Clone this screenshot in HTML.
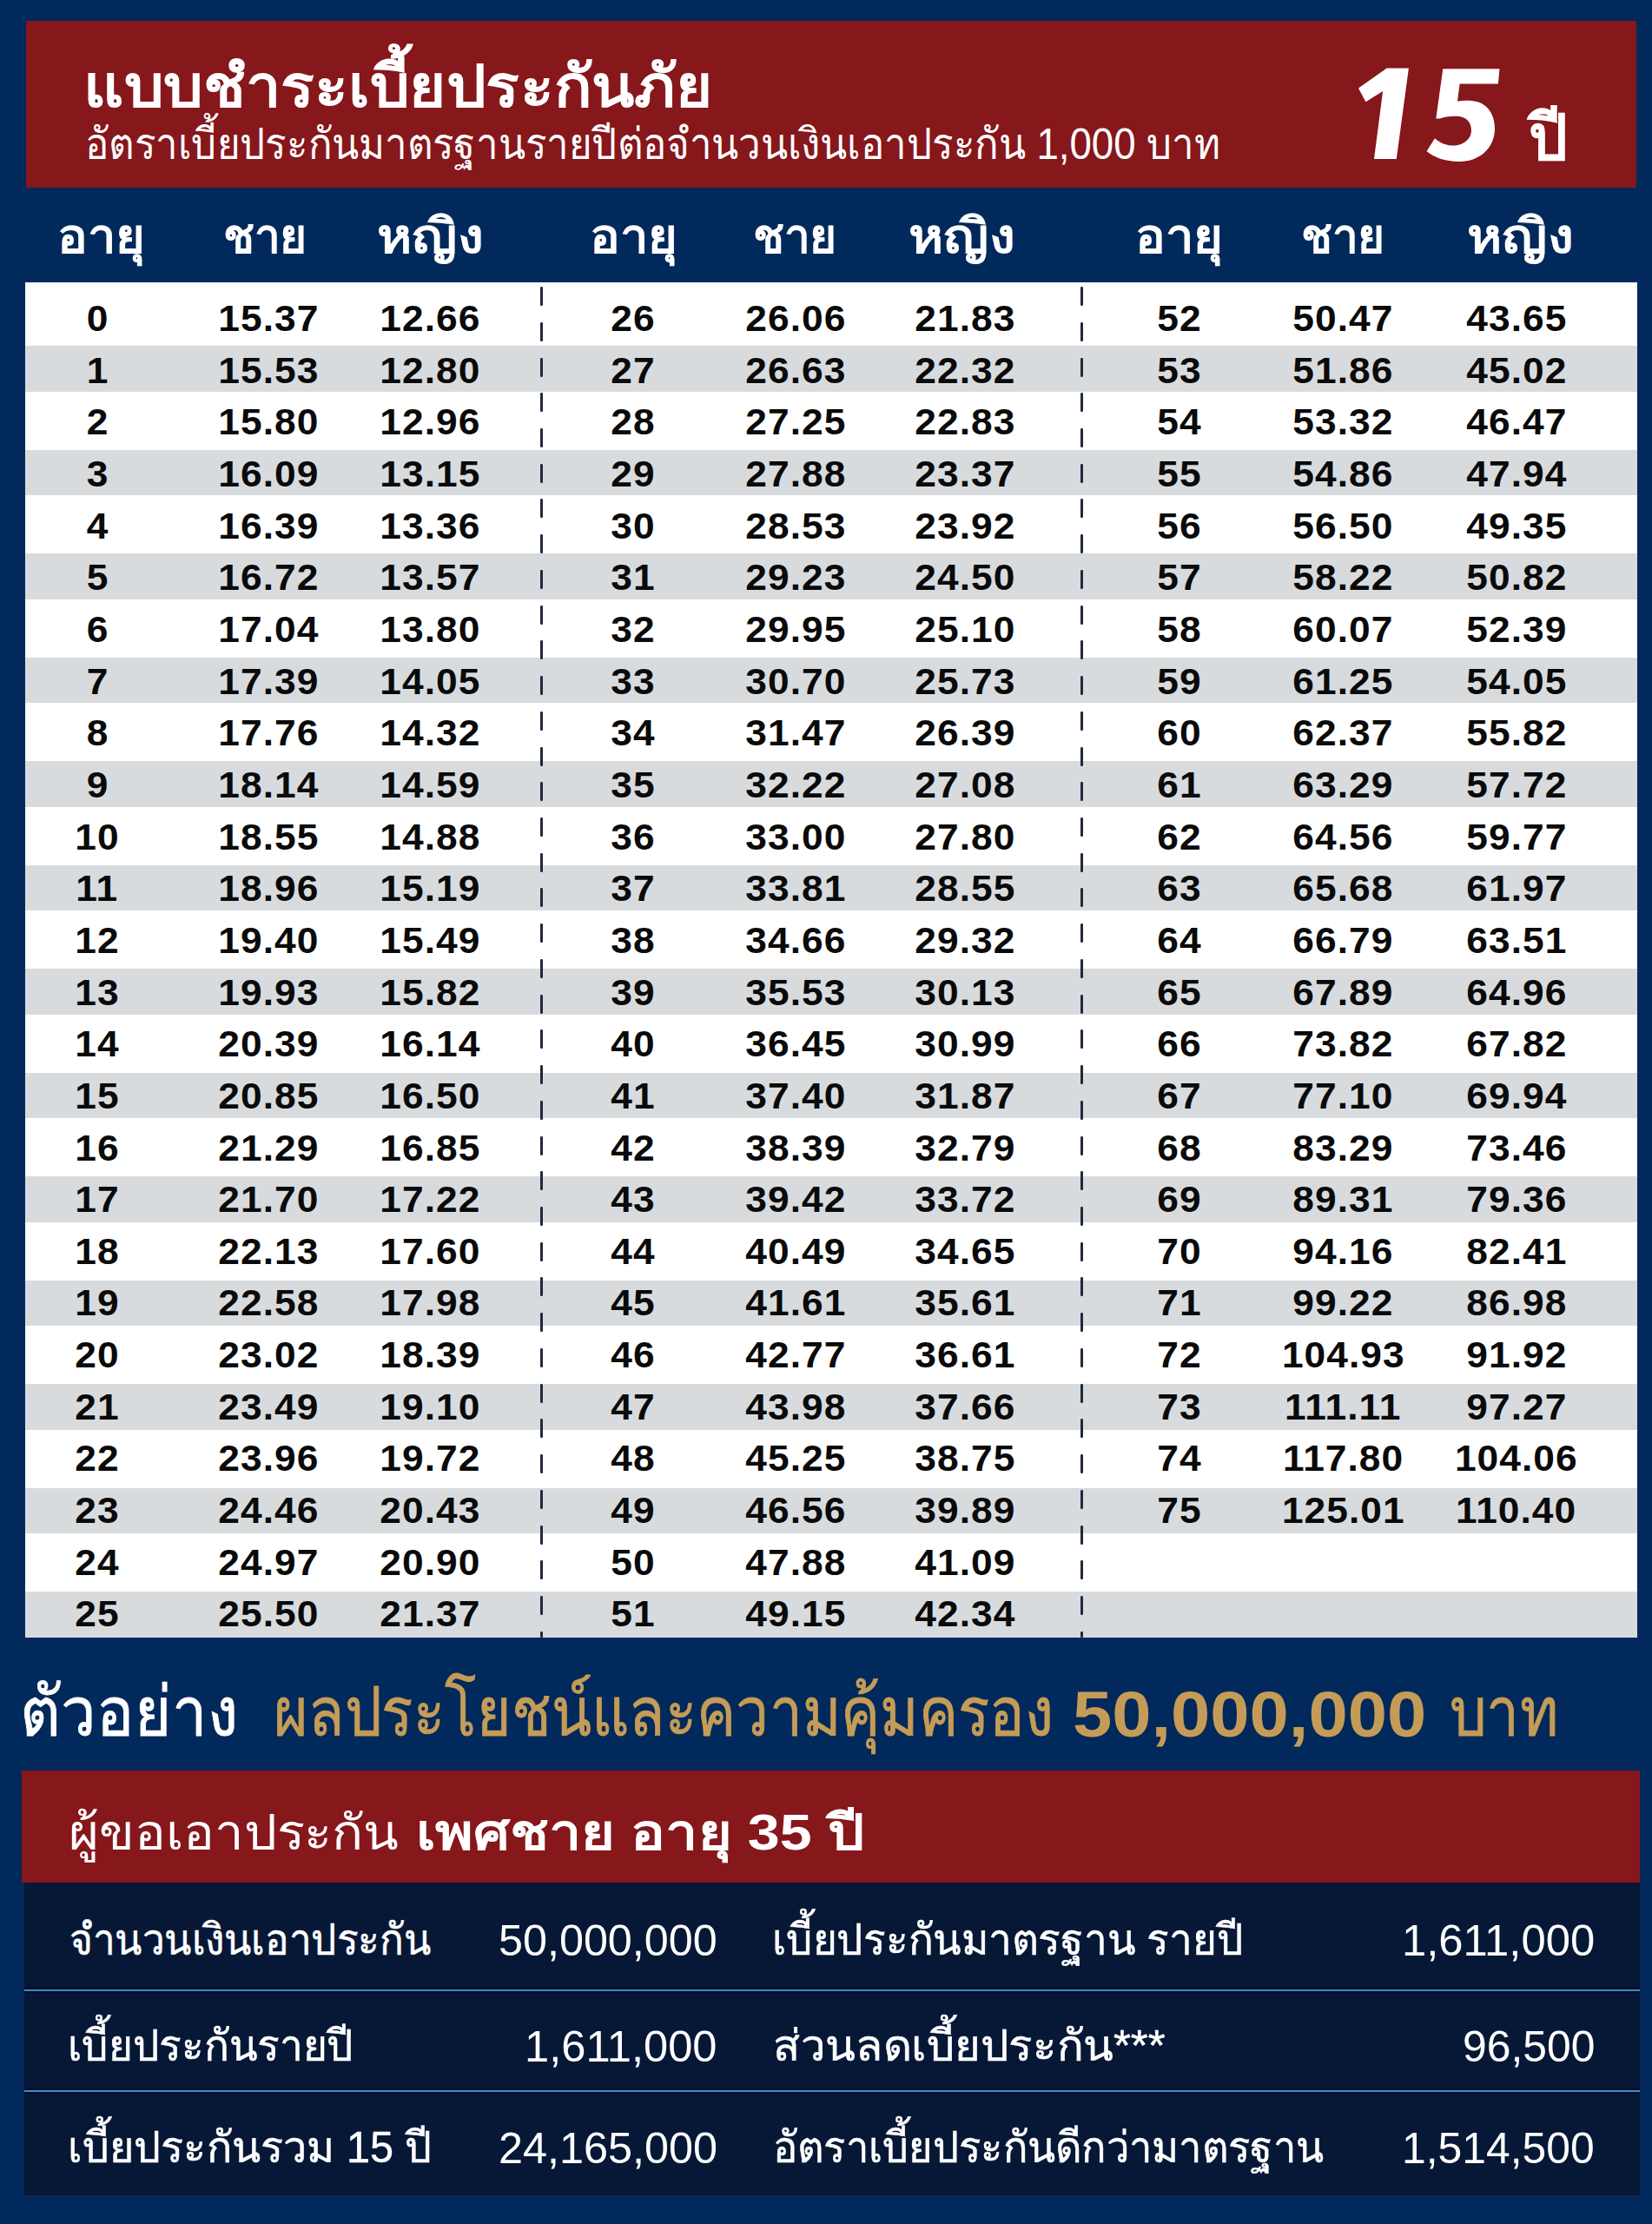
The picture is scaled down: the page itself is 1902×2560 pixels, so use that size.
<!DOCTYPE html>
<html lang="th"><head><meta charset="utf-8"><title>แบบชำระเบี้ยประกันภัย 15 ปี</title>
<style>
*{margin:0;padding:0;box-sizing:border-box}
html,body{width:1902px;height:2560px;overflow:hidden}
body{position:relative;background:#02295b;font-family:"Liberation Sans",sans-serif;color:#fff}
.a{position:absolute;white-space:nowrap;transform-origin:0 0}
.c{position:absolute;white-space:nowrap;text-align:center;width:240px}
.n{font-weight:bold;color:#0a0a0a;font-size:43px;line-height:43px}
.n span{display:inline-block;transform:scaleX(1.03);letter-spacing:1px}
.g{position:absolute;left:29px;width:1856px;height:52.4px;background:#d8dbde}
.d{position:absolute;width:2.6px;border-radius:1.3px;background:#20283f}
.box{position:absolute}
</style></head><body>

<div class="box" style="left:30px;top:24px;width:1854px;height:192px;background:#86171b"></div>
<div class="box" style="left:29px;top:325px;width:1856px;height:1560px;background:#fff"></div>
<div class="g" style="top:398.40px"></div>
<div class="g" style="top:517.88px"></div>
<div class="g" style="top:637.36px"></div>
<div class="g" style="top:756.84px"></div>
<div class="g" style="top:876.32px"></div>
<div class="g" style="top:995.80px"></div>
<div class="g" style="top:1115.28px"></div>
<div class="g" style="top:1234.76px"></div>
<div class="g" style="top:1354.24px"></div>
<div class="g" style="top:1473.72px"></div>
<div class="g" style="top:1593.20px"></div>
<div class="g" style="top:1712.68px"></div>
<div class="g" style="top:1832.16px"></div>
<div class="d" style="left:622.0px;top:330.0px;height:22.0px"></div>
<div class="d" style="left:622.0px;top:370.7px;height:22.0px"></div>
<div class="d" style="left:622.0px;top:411.5px;height:22.0px"></div>
<div class="d" style="left:622.0px;top:452.2px;height:22.0px"></div>
<div class="d" style="left:622.0px;top:492.9px;height:22.0px"></div>
<div class="d" style="left:622.0px;top:533.7px;height:22.0px"></div>
<div class="d" style="left:622.0px;top:574.4px;height:22.0px"></div>
<div class="d" style="left:622.0px;top:615.1px;height:22.0px"></div>
<div class="d" style="left:622.0px;top:655.8px;height:22.0px"></div>
<div class="d" style="left:622.0px;top:696.6px;height:22.0px"></div>
<div class="d" style="left:622.0px;top:737.3px;height:22.0px"></div>
<div class="d" style="left:622.0px;top:778.0px;height:22.0px"></div>
<div class="d" style="left:622.0px;top:818.8px;height:22.0px"></div>
<div class="d" style="left:622.0px;top:859.5px;height:22.0px"></div>
<div class="d" style="left:622.0px;top:900.2px;height:22.0px"></div>
<div class="d" style="left:622.0px;top:941.0px;height:22.0px"></div>
<div class="d" style="left:622.0px;top:981.7px;height:22.0px"></div>
<div class="d" style="left:622.0px;top:1022.4px;height:22.0px"></div>
<div class="d" style="left:622.0px;top:1063.1px;height:22.0px"></div>
<div class="d" style="left:622.0px;top:1103.9px;height:22.0px"></div>
<div class="d" style="left:622.0px;top:1144.6px;height:22.0px"></div>
<div class="d" style="left:622.0px;top:1185.3px;height:22.0px"></div>
<div class="d" style="left:622.0px;top:1226.1px;height:22.0px"></div>
<div class="d" style="left:622.0px;top:1266.8px;height:22.0px"></div>
<div class="d" style="left:622.0px;top:1307.5px;height:22.0px"></div>
<div class="d" style="left:622.0px;top:1348.3px;height:22.0px"></div>
<div class="d" style="left:622.0px;top:1389.0px;height:22.0px"></div>
<div class="d" style="left:622.0px;top:1429.7px;height:22.0px"></div>
<div class="d" style="left:622.0px;top:1470.4px;height:22.0px"></div>
<div class="d" style="left:622.0px;top:1511.2px;height:22.0px"></div>
<div class="d" style="left:622.0px;top:1551.9px;height:22.0px"></div>
<div class="d" style="left:622.0px;top:1592.6px;height:22.0px"></div>
<div class="d" style="left:622.0px;top:1633.4px;height:22.0px"></div>
<div class="d" style="left:622.0px;top:1674.1px;height:22.0px"></div>
<div class="d" style="left:622.0px;top:1714.8px;height:22.0px"></div>
<div class="d" style="left:622.0px;top:1755.6px;height:22.0px"></div>
<div class="d" style="left:622.0px;top:1796.3px;height:22.0px"></div>
<div class="d" style="left:622.0px;top:1837.0px;height:22.0px"></div>
<div class="d" style="left:622.0px;top:1877.7px;height:7.3px"></div>
<div class="d" style="left:1244.0px;top:330.0px;height:22.0px"></div>
<div class="d" style="left:1244.0px;top:370.7px;height:22.0px"></div>
<div class="d" style="left:1244.0px;top:411.5px;height:22.0px"></div>
<div class="d" style="left:1244.0px;top:452.2px;height:22.0px"></div>
<div class="d" style="left:1244.0px;top:492.9px;height:22.0px"></div>
<div class="d" style="left:1244.0px;top:533.7px;height:22.0px"></div>
<div class="d" style="left:1244.0px;top:574.4px;height:22.0px"></div>
<div class="d" style="left:1244.0px;top:615.1px;height:22.0px"></div>
<div class="d" style="left:1244.0px;top:655.8px;height:22.0px"></div>
<div class="d" style="left:1244.0px;top:696.6px;height:22.0px"></div>
<div class="d" style="left:1244.0px;top:737.3px;height:22.0px"></div>
<div class="d" style="left:1244.0px;top:778.0px;height:22.0px"></div>
<div class="d" style="left:1244.0px;top:818.8px;height:22.0px"></div>
<div class="d" style="left:1244.0px;top:859.5px;height:22.0px"></div>
<div class="d" style="left:1244.0px;top:900.2px;height:22.0px"></div>
<div class="d" style="left:1244.0px;top:941.0px;height:22.0px"></div>
<div class="d" style="left:1244.0px;top:981.7px;height:22.0px"></div>
<div class="d" style="left:1244.0px;top:1022.4px;height:22.0px"></div>
<div class="d" style="left:1244.0px;top:1063.1px;height:22.0px"></div>
<div class="d" style="left:1244.0px;top:1103.9px;height:22.0px"></div>
<div class="d" style="left:1244.0px;top:1144.6px;height:22.0px"></div>
<div class="d" style="left:1244.0px;top:1185.3px;height:22.0px"></div>
<div class="d" style="left:1244.0px;top:1226.1px;height:22.0px"></div>
<div class="d" style="left:1244.0px;top:1266.8px;height:22.0px"></div>
<div class="d" style="left:1244.0px;top:1307.5px;height:22.0px"></div>
<div class="d" style="left:1244.0px;top:1348.3px;height:22.0px"></div>
<div class="d" style="left:1244.0px;top:1389.0px;height:22.0px"></div>
<div class="d" style="left:1244.0px;top:1429.7px;height:22.0px"></div>
<div class="d" style="left:1244.0px;top:1470.4px;height:22.0px"></div>
<div class="d" style="left:1244.0px;top:1511.2px;height:22.0px"></div>
<div class="d" style="left:1244.0px;top:1551.9px;height:22.0px"></div>
<div class="d" style="left:1244.0px;top:1592.6px;height:22.0px"></div>
<div class="d" style="left:1244.0px;top:1633.4px;height:22.0px"></div>
<div class="d" style="left:1244.0px;top:1674.1px;height:22.0px"></div>
<div class="d" style="left:1244.0px;top:1714.8px;height:22.0px"></div>
<div class="d" style="left:1244.0px;top:1755.6px;height:22.0px"></div>
<div class="d" style="left:1244.0px;top:1796.3px;height:22.0px"></div>
<div class="d" style="left:1244.0px;top:1837.0px;height:22.0px"></div>
<div class="d" style="left:1244.0px;top:1877.7px;height:7.3px"></div>
<div class="c n" style="left:-8.0px;top:345.1px"><span>0</span></div>
<div class="c n" style="left:189.0px;top:345.1px"><span>15.37</span></div>
<div class="c n" style="left:375.0px;top:345.1px"><span>12.66</span></div>
<div class="c n" style="left:-8.0px;top:404.8px"><span>1</span></div>
<div class="c n" style="left:189.0px;top:404.8px"><span>15.53</span></div>
<div class="c n" style="left:375.0px;top:404.8px"><span>12.80</span></div>
<div class="c n" style="left:-8.0px;top:464.4px"><span>2</span></div>
<div class="c n" style="left:189.0px;top:464.4px"><span>15.80</span></div>
<div class="c n" style="left:375.0px;top:464.4px"><span>12.96</span></div>
<div class="c n" style="left:-8.0px;top:524.0px"><span>3</span></div>
<div class="c n" style="left:189.0px;top:524.0px"><span>16.09</span></div>
<div class="c n" style="left:375.0px;top:524.0px"><span>13.15</span></div>
<div class="c n" style="left:-8.0px;top:583.7px"><span>4</span></div>
<div class="c n" style="left:189.0px;top:583.7px"><span>16.39</span></div>
<div class="c n" style="left:375.0px;top:583.7px"><span>13.36</span></div>
<div class="c n" style="left:-8.0px;top:643.4px"><span>5</span></div>
<div class="c n" style="left:189.0px;top:643.4px"><span>16.72</span></div>
<div class="c n" style="left:375.0px;top:643.4px"><span>13.57</span></div>
<div class="c n" style="left:-8.0px;top:703.0px"><span>6</span></div>
<div class="c n" style="left:189.0px;top:703.0px"><span>17.04</span></div>
<div class="c n" style="left:375.0px;top:703.0px"><span>13.80</span></div>
<div class="c n" style="left:-8.0px;top:762.7px"><span>7</span></div>
<div class="c n" style="left:189.0px;top:762.7px"><span>17.39</span></div>
<div class="c n" style="left:375.0px;top:762.7px"><span>14.05</span></div>
<div class="c n" style="left:-8.0px;top:822.3px"><span>8</span></div>
<div class="c n" style="left:189.0px;top:822.3px"><span>17.76</span></div>
<div class="c n" style="left:375.0px;top:822.3px"><span>14.32</span></div>
<div class="c n" style="left:-8.0px;top:882.0px"><span>9</span></div>
<div class="c n" style="left:189.0px;top:882.0px"><span>18.14</span></div>
<div class="c n" style="left:375.0px;top:882.0px"><span>14.59</span></div>
<div class="c n" style="left:-8.0px;top:941.6px"><span>10</span></div>
<div class="c n" style="left:189.0px;top:941.6px"><span>18.55</span></div>
<div class="c n" style="left:375.0px;top:941.6px"><span>14.88</span></div>
<div class="c n" style="left:-8.0px;top:1001.2px"><span>11</span></div>
<div class="c n" style="left:189.0px;top:1001.2px"><span>18.96</span></div>
<div class="c n" style="left:375.0px;top:1001.2px"><span>15.19</span></div>
<div class="c n" style="left:-8.0px;top:1060.9px"><span>12</span></div>
<div class="c n" style="left:189.0px;top:1060.9px"><span>19.40</span></div>
<div class="c n" style="left:375.0px;top:1060.9px"><span>15.49</span></div>
<div class="c n" style="left:-8.0px;top:1120.5px"><span>13</span></div>
<div class="c n" style="left:189.0px;top:1120.5px"><span>19.93</span></div>
<div class="c n" style="left:375.0px;top:1120.5px"><span>15.82</span></div>
<div class="c n" style="left:-8.0px;top:1180.2px"><span>14</span></div>
<div class="c n" style="left:189.0px;top:1180.2px"><span>20.39</span></div>
<div class="c n" style="left:375.0px;top:1180.2px"><span>16.14</span></div>
<div class="c n" style="left:-8.0px;top:1239.8px"><span>15</span></div>
<div class="c n" style="left:189.0px;top:1239.8px"><span>20.85</span></div>
<div class="c n" style="left:375.0px;top:1239.8px"><span>16.50</span></div>
<div class="c n" style="left:-8.0px;top:1299.5px"><span>16</span></div>
<div class="c n" style="left:189.0px;top:1299.5px"><span>21.29</span></div>
<div class="c n" style="left:375.0px;top:1299.5px"><span>16.85</span></div>
<div class="c n" style="left:-8.0px;top:1359.2px"><span>17</span></div>
<div class="c n" style="left:189.0px;top:1359.2px"><span>21.70</span></div>
<div class="c n" style="left:375.0px;top:1359.2px"><span>17.22</span></div>
<div class="c n" style="left:-8.0px;top:1418.8px"><span>18</span></div>
<div class="c n" style="left:189.0px;top:1418.8px"><span>22.13</span></div>
<div class="c n" style="left:375.0px;top:1418.8px"><span>17.60</span></div>
<div class="c n" style="left:-8.0px;top:1478.4px"><span>19</span></div>
<div class="c n" style="left:189.0px;top:1478.4px"><span>22.58</span></div>
<div class="c n" style="left:375.0px;top:1478.4px"><span>17.98</span></div>
<div class="c n" style="left:-8.0px;top:1538.1px"><span>20</span></div>
<div class="c n" style="left:189.0px;top:1538.1px"><span>23.02</span></div>
<div class="c n" style="left:375.0px;top:1538.1px"><span>18.39</span></div>
<div class="c n" style="left:-8.0px;top:1597.8px"><span>21</span></div>
<div class="c n" style="left:189.0px;top:1597.8px"><span>23.49</span></div>
<div class="c n" style="left:375.0px;top:1597.8px"><span>19.10</span></div>
<div class="c n" style="left:-8.0px;top:1657.4px"><span>22</span></div>
<div class="c n" style="left:189.0px;top:1657.4px"><span>23.96</span></div>
<div class="c n" style="left:375.0px;top:1657.4px"><span>19.72</span></div>
<div class="c n" style="left:-8.0px;top:1717.1px"><span>23</span></div>
<div class="c n" style="left:189.0px;top:1717.1px"><span>24.46</span></div>
<div class="c n" style="left:375.0px;top:1717.1px"><span>20.43</span></div>
<div class="c n" style="left:-8.0px;top:1776.7px"><span>24</span></div>
<div class="c n" style="left:189.0px;top:1776.7px"><span>24.97</span></div>
<div class="c n" style="left:375.0px;top:1776.7px"><span>20.90</span></div>
<div class="c n" style="left:-8.0px;top:1836.3px"><span>25</span></div>
<div class="c n" style="left:189.0px;top:1836.3px"><span>25.50</span></div>
<div class="c n" style="left:375.0px;top:1836.3px"><span>21.37</span></div>
<div class="c n" style="left:609.0px;top:345.1px"><span>26</span></div>
<div class="c n" style="left:796.5px;top:345.1px"><span>26.06</span></div>
<div class="c n" style="left:991.0px;top:345.1px"><span>21.83</span></div>
<div class="c n" style="left:609.0px;top:404.8px"><span>27</span></div>
<div class="c n" style="left:796.5px;top:404.8px"><span>26.63</span></div>
<div class="c n" style="left:991.0px;top:404.8px"><span>22.32</span></div>
<div class="c n" style="left:609.0px;top:464.4px"><span>28</span></div>
<div class="c n" style="left:796.5px;top:464.4px"><span>27.25</span></div>
<div class="c n" style="left:991.0px;top:464.4px"><span>22.83</span></div>
<div class="c n" style="left:609.0px;top:524.0px"><span>29</span></div>
<div class="c n" style="left:796.5px;top:524.0px"><span>27.88</span></div>
<div class="c n" style="left:991.0px;top:524.0px"><span>23.37</span></div>
<div class="c n" style="left:609.0px;top:583.7px"><span>30</span></div>
<div class="c n" style="left:796.5px;top:583.7px"><span>28.53</span></div>
<div class="c n" style="left:991.0px;top:583.7px"><span>23.92</span></div>
<div class="c n" style="left:609.0px;top:643.4px"><span>31</span></div>
<div class="c n" style="left:796.5px;top:643.4px"><span>29.23</span></div>
<div class="c n" style="left:991.0px;top:643.4px"><span>24.50</span></div>
<div class="c n" style="left:609.0px;top:703.0px"><span>32</span></div>
<div class="c n" style="left:796.5px;top:703.0px"><span>29.95</span></div>
<div class="c n" style="left:991.0px;top:703.0px"><span>25.10</span></div>
<div class="c n" style="left:609.0px;top:762.7px"><span>33</span></div>
<div class="c n" style="left:796.5px;top:762.7px"><span>30.70</span></div>
<div class="c n" style="left:991.0px;top:762.7px"><span>25.73</span></div>
<div class="c n" style="left:609.0px;top:822.3px"><span>34</span></div>
<div class="c n" style="left:796.5px;top:822.3px"><span>31.47</span></div>
<div class="c n" style="left:991.0px;top:822.3px"><span>26.39</span></div>
<div class="c n" style="left:609.0px;top:882.0px"><span>35</span></div>
<div class="c n" style="left:796.5px;top:882.0px"><span>32.22</span></div>
<div class="c n" style="left:991.0px;top:882.0px"><span>27.08</span></div>
<div class="c n" style="left:609.0px;top:941.6px"><span>36</span></div>
<div class="c n" style="left:796.5px;top:941.6px"><span>33.00</span></div>
<div class="c n" style="left:991.0px;top:941.6px"><span>27.80</span></div>
<div class="c n" style="left:609.0px;top:1001.2px"><span>37</span></div>
<div class="c n" style="left:796.5px;top:1001.2px"><span>33.81</span></div>
<div class="c n" style="left:991.0px;top:1001.2px"><span>28.55</span></div>
<div class="c n" style="left:609.0px;top:1060.9px"><span>38</span></div>
<div class="c n" style="left:796.5px;top:1060.9px"><span>34.66</span></div>
<div class="c n" style="left:991.0px;top:1060.9px"><span>29.32</span></div>
<div class="c n" style="left:609.0px;top:1120.5px"><span>39</span></div>
<div class="c n" style="left:796.5px;top:1120.5px"><span>35.53</span></div>
<div class="c n" style="left:991.0px;top:1120.5px"><span>30.13</span></div>
<div class="c n" style="left:609.0px;top:1180.2px"><span>40</span></div>
<div class="c n" style="left:796.5px;top:1180.2px"><span>36.45</span></div>
<div class="c n" style="left:991.0px;top:1180.2px"><span>30.99</span></div>
<div class="c n" style="left:609.0px;top:1239.8px"><span>41</span></div>
<div class="c n" style="left:796.5px;top:1239.8px"><span>37.40</span></div>
<div class="c n" style="left:991.0px;top:1239.8px"><span>31.87</span></div>
<div class="c n" style="left:609.0px;top:1299.5px"><span>42</span></div>
<div class="c n" style="left:796.5px;top:1299.5px"><span>38.39</span></div>
<div class="c n" style="left:991.0px;top:1299.5px"><span>32.79</span></div>
<div class="c n" style="left:609.0px;top:1359.2px"><span>43</span></div>
<div class="c n" style="left:796.5px;top:1359.2px"><span>39.42</span></div>
<div class="c n" style="left:991.0px;top:1359.2px"><span>33.72</span></div>
<div class="c n" style="left:609.0px;top:1418.8px"><span>44</span></div>
<div class="c n" style="left:796.5px;top:1418.8px"><span>40.49</span></div>
<div class="c n" style="left:991.0px;top:1418.8px"><span>34.65</span></div>
<div class="c n" style="left:609.0px;top:1478.4px"><span>45</span></div>
<div class="c n" style="left:796.5px;top:1478.4px"><span>41.61</span></div>
<div class="c n" style="left:991.0px;top:1478.4px"><span>35.61</span></div>
<div class="c n" style="left:609.0px;top:1538.1px"><span>46</span></div>
<div class="c n" style="left:796.5px;top:1538.1px"><span>42.77</span></div>
<div class="c n" style="left:991.0px;top:1538.1px"><span>36.61</span></div>
<div class="c n" style="left:609.0px;top:1597.8px"><span>47</span></div>
<div class="c n" style="left:796.5px;top:1597.8px"><span>43.98</span></div>
<div class="c n" style="left:991.0px;top:1597.8px"><span>37.66</span></div>
<div class="c n" style="left:609.0px;top:1657.4px"><span>48</span></div>
<div class="c n" style="left:796.5px;top:1657.4px"><span>45.25</span></div>
<div class="c n" style="left:991.0px;top:1657.4px"><span>38.75</span></div>
<div class="c n" style="left:609.0px;top:1717.1px"><span>49</span></div>
<div class="c n" style="left:796.5px;top:1717.1px"><span>46.56</span></div>
<div class="c n" style="left:991.0px;top:1717.1px"><span>39.89</span></div>
<div class="c n" style="left:609.0px;top:1776.7px"><span>50</span></div>
<div class="c n" style="left:796.5px;top:1776.7px"><span>47.88</span></div>
<div class="c n" style="left:991.0px;top:1776.7px"><span>41.09</span></div>
<div class="c n" style="left:609.0px;top:1836.3px"><span>51</span></div>
<div class="c n" style="left:796.5px;top:1836.3px"><span>49.15</span></div>
<div class="c n" style="left:991.0px;top:1836.3px"><span>42.34</span></div>
<div class="c n" style="left:1237.5px;top:345.1px"><span>52</span></div>
<div class="c n" style="left:1426.5px;top:345.1px"><span>50.47</span></div>
<div class="c n" style="left:1626.0px;top:345.1px"><span>43.65</span></div>
<div class="c n" style="left:1237.5px;top:404.8px"><span>53</span></div>
<div class="c n" style="left:1426.5px;top:404.8px"><span>51.86</span></div>
<div class="c n" style="left:1626.0px;top:404.8px"><span>45.02</span></div>
<div class="c n" style="left:1237.5px;top:464.4px"><span>54</span></div>
<div class="c n" style="left:1426.5px;top:464.4px"><span>53.32</span></div>
<div class="c n" style="left:1626.0px;top:464.4px"><span>46.47</span></div>
<div class="c n" style="left:1237.5px;top:524.0px"><span>55</span></div>
<div class="c n" style="left:1426.5px;top:524.0px"><span>54.86</span></div>
<div class="c n" style="left:1626.0px;top:524.0px"><span>47.94</span></div>
<div class="c n" style="left:1237.5px;top:583.7px"><span>56</span></div>
<div class="c n" style="left:1426.5px;top:583.7px"><span>56.50</span></div>
<div class="c n" style="left:1626.0px;top:583.7px"><span>49.35</span></div>
<div class="c n" style="left:1237.5px;top:643.4px"><span>57</span></div>
<div class="c n" style="left:1426.5px;top:643.4px"><span>58.22</span></div>
<div class="c n" style="left:1626.0px;top:643.4px"><span>50.82</span></div>
<div class="c n" style="left:1237.5px;top:703.0px"><span>58</span></div>
<div class="c n" style="left:1426.5px;top:703.0px"><span>60.07</span></div>
<div class="c n" style="left:1626.0px;top:703.0px"><span>52.39</span></div>
<div class="c n" style="left:1237.5px;top:762.7px"><span>59</span></div>
<div class="c n" style="left:1426.5px;top:762.7px"><span>61.25</span></div>
<div class="c n" style="left:1626.0px;top:762.7px"><span>54.05</span></div>
<div class="c n" style="left:1237.5px;top:822.3px"><span>60</span></div>
<div class="c n" style="left:1426.5px;top:822.3px"><span>62.37</span></div>
<div class="c n" style="left:1626.0px;top:822.3px"><span>55.82</span></div>
<div class="c n" style="left:1237.5px;top:882.0px"><span>61</span></div>
<div class="c n" style="left:1426.5px;top:882.0px"><span>63.29</span></div>
<div class="c n" style="left:1626.0px;top:882.0px"><span>57.72</span></div>
<div class="c n" style="left:1237.5px;top:941.6px"><span>62</span></div>
<div class="c n" style="left:1426.5px;top:941.6px"><span>64.56</span></div>
<div class="c n" style="left:1626.0px;top:941.6px"><span>59.77</span></div>
<div class="c n" style="left:1237.5px;top:1001.2px"><span>63</span></div>
<div class="c n" style="left:1426.5px;top:1001.2px"><span>65.68</span></div>
<div class="c n" style="left:1626.0px;top:1001.2px"><span>61.97</span></div>
<div class="c n" style="left:1237.5px;top:1060.9px"><span>64</span></div>
<div class="c n" style="left:1426.5px;top:1060.9px"><span>66.79</span></div>
<div class="c n" style="left:1626.0px;top:1060.9px"><span>63.51</span></div>
<div class="c n" style="left:1237.5px;top:1120.5px"><span>65</span></div>
<div class="c n" style="left:1426.5px;top:1120.5px"><span>67.89</span></div>
<div class="c n" style="left:1626.0px;top:1120.5px"><span>64.96</span></div>
<div class="c n" style="left:1237.5px;top:1180.2px"><span>66</span></div>
<div class="c n" style="left:1426.5px;top:1180.2px"><span>73.82</span></div>
<div class="c n" style="left:1626.0px;top:1180.2px"><span>67.82</span></div>
<div class="c n" style="left:1237.5px;top:1239.8px"><span>67</span></div>
<div class="c n" style="left:1426.5px;top:1239.8px"><span>77.10</span></div>
<div class="c n" style="left:1626.0px;top:1239.8px"><span>69.94</span></div>
<div class="c n" style="left:1237.5px;top:1299.5px"><span>68</span></div>
<div class="c n" style="left:1426.5px;top:1299.5px"><span>83.29</span></div>
<div class="c n" style="left:1626.0px;top:1299.5px"><span>73.46</span></div>
<div class="c n" style="left:1237.5px;top:1359.2px"><span>69</span></div>
<div class="c n" style="left:1426.5px;top:1359.2px"><span>89.31</span></div>
<div class="c n" style="left:1626.0px;top:1359.2px"><span>79.36</span></div>
<div class="c n" style="left:1237.5px;top:1418.8px"><span>70</span></div>
<div class="c n" style="left:1426.5px;top:1418.8px"><span>94.16</span></div>
<div class="c n" style="left:1626.0px;top:1418.8px"><span>82.41</span></div>
<div class="c n" style="left:1237.5px;top:1478.4px"><span>71</span></div>
<div class="c n" style="left:1426.5px;top:1478.4px"><span>99.22</span></div>
<div class="c n" style="left:1626.0px;top:1478.4px"><span>86.98</span></div>
<div class="c n" style="left:1237.5px;top:1538.1px"><span>72</span></div>
<div class="c n" style="left:1426.5px;top:1538.1px"><span>104.93</span></div>
<div class="c n" style="left:1626.0px;top:1538.1px"><span>91.92</span></div>
<div class="c n" style="left:1237.5px;top:1597.8px"><span>73</span></div>
<div class="c n" style="left:1426.5px;top:1597.8px"><span>111.11</span></div>
<div class="c n" style="left:1626.0px;top:1597.8px"><span>97.27</span></div>
<div class="c n" style="left:1237.5px;top:1657.4px"><span>74</span></div>
<div class="c n" style="left:1426.5px;top:1657.4px"><span>117.80</span></div>
<div class="c n" style="left:1626.0px;top:1657.4px"><span>104.06</span></div>
<div class="c n" style="left:1237.5px;top:1717.1px"><span>75</span></div>
<div class="c n" style="left:1426.5px;top:1717.1px"><span>125.01</span></div>
<div class="c n" style="left:1626.0px;top:1717.1px"><span>110.40</span></div>
<div class="box" style="left:25px;top:2038px;width:1863px;height:129px;background:#86171b"></div>
<div class="box" style="left:28px;top:2167px;width:1860px;height:360px;background:#071836"></div>
<div class="box" style="left:28px;top:2287.0px;width:1860px;height:8px;background:#041128"></div>
<div class="box" style="left:28px;top:2289.8px;width:1860px;height:2.4px;background:#3a8bd3"></div>
<div class="box" style="left:28px;top:2402.8px;width:1860px;height:8px;background:#041128"></div>
<div class="box" style="left:28px;top:2405.6px;width:1860px;height:2.4px;background:#3a8bd3"></div>
<svg class="box" style="left:1540px;top:60px" width="200" height="140" viewBox="1540 60 200 140" role="img" aria-label="15"><path fill="#fff" d="M1596.6,78.4 L1621.9,78.4 L1607.8,183 L1582,183 L1592.1,105 L1572.4,117.2 L1564,101.5 Z M1661.3,79.3 L1726.5,79.3 L1724.9,96.6 L1680.6,96.6 L1678,116.8 C1683,115.8 1690,115.6 1696,116.2 C1711,117.8 1721,130 1721,148 C1721,170 1704,186 1680,186 C1664,186 1650,181 1642.6,174 L1652,159.2 C1658,164.5 1665,167.5 1673,167.5 C1685,167.5 1694,160 1694,150 C1694,140 1687,133.8 1677,133.8 C1668,133.8 1661,135 1658,136.5 L1653.3,136.5 Z"/></svg>
<div class="a" id="title" style="left:96.05px;top:64.74px;font-size:68.00px;line-height:68.00px;font-weight:bold;font-style:normal;color:#ffffff;transform:scaleX(1.0604)">แบบชำระเบี้ยประกันภัย</div>
<div class="a" id="sub" style="left:97.80px;top:140.98px;font-size:50.00px;line-height:50.00px;font-weight:normal;font-style:normal;color:#ffffff;transform:scaleX(0.9129)">อัตราเบี้ยประกันมาตรฐานรายปีต่อจำนวนเงินเอาประกัน 1,000 บาท</div>
<div class="a" id="pi" style="left:1760.29px;top:122.21px;font-size:73.00px;line-height:73.00px;font-weight:bold;font-style:normal;color:#ffffff;transform:scaleX(0.9677)">ปี</div>
<div class="a" id="h0" style="left:66.13px;top:243.60px;font-size:56.00px;line-height:56.00px;font-weight:bold;font-style:normal;color:#ffffff;transform:scaleX(1.0329)">อายุ</div>
<div class="a" id="h1" style="left:257.46px;top:243.60px;font-size:56.00px;line-height:56.00px;font-weight:bold;font-style:normal;color:#ffffff;transform:scaleX(0.9490)">ชาย</div>
<div class="a" id="h2" style="left:434.27px;top:243.60px;font-size:56.00px;line-height:56.00px;font-weight:bold;font-style:normal;color:#ffffff;transform:scaleX(1.0935)">หญิง</div>
<div class="a" id="h3" style="left:679.13px;top:243.60px;font-size:56.00px;line-height:56.00px;font-weight:bold;font-style:normal;color:#ffffff;transform:scaleX(1.0329)">อายุ</div>
<div class="a" id="h4" style="left:867.46px;top:243.60px;font-size:56.00px;line-height:56.00px;font-weight:bold;font-style:normal;color:#ffffff;transform:scaleX(0.9490)">ชาย</div>
<div class="a" id="h5" style="left:1046.27px;top:243.60px;font-size:56.00px;line-height:56.00px;font-weight:bold;font-style:normal;color:#ffffff;transform:scaleX(1.0935)">หญิง</div>
<div class="a" id="h6" style="left:1307.13px;top:243.60px;font-size:56.00px;line-height:56.00px;font-weight:bold;font-style:normal;color:#ffffff;transform:scaleX(1.0329)">อายุ</div>
<div class="a" id="h7" style="left:1498.46px;top:243.60px;font-size:56.00px;line-height:56.00px;font-weight:bold;font-style:normal;color:#ffffff;transform:scaleX(0.9490)">ชาย</div>
<div class="a" id="h8" style="left:1688.81px;top:243.60px;font-size:56.00px;line-height:56.00px;font-weight:bold;font-style:normal;color:#ffffff;transform:scaleX(1.0935)">หญิง</div>
<div class="a" id="ex1" style="left:23.08px;top:1930.69px;font-size:79.40px;line-height:79.40px;font-weight:normal;font-style:normal;color:#ffffff;-webkit-text-stroke:0.80px #ffffff;transform:scaleX(0.9096)">ตัวอย่าง</div>
<div class="a" id="ex2" style="left:314.94px;top:1930.69px;font-size:79.40px;line-height:79.40px;font-weight:normal;font-style:normal;color:#c59c57;-webkit-text-stroke:0.80px #c59c57;transform:scaleX(0.8506)">ผลประโยชน์และความคุ้มครอง</div>
<div class="a" id="ex3" style="left:1235.21px;top:1935.51px;font-size:75.00px;line-height:75.00px;font-weight:bold;font-style:normal;color:#c59c57;transform:scaleX(1.0849)">50,000,000</div>
<div class="a" id="ex4" style="left:1669.39px;top:1930.69px;font-size:79.40px;line-height:79.40px;font-weight:normal;font-style:normal;color:#c59c57;-webkit-text-stroke:0.80px #c59c57;transform:scaleX(0.8494)">บาท</div>
<div class="a" id="band1" style="left:78.78px;top:2081.69px;font-size:56.60px;line-height:56.60px;font-weight:normal;font-style:normal;color:#ffffff;transform:scaleX(1.0557)">ผู้ขอเอาประกัน</div>
<div class="a" id="band2" style="left:479.07px;top:2081.69px;font-size:56.60px;line-height:56.60px;font-weight:bold;font-style:normal;color:#ffffff;transform:scaleX(1.1731)">เพศชาย อายุ 35 ปี</div>
<div class="a" id="L1_0" style="left:80.11px;top:2208.18px;font-size:50.00px;line-height:50.00px;font-weight:normal;font-style:normal;color:#ffffff;-webkit-text-stroke:0.50px #ffffff;transform:scaleX(0.9185)">จำนวนเงินเอาประกัน</div>
<div class="a" id="N2_0" style="left:574.31px;top:2208.55px;font-size:50.50px;line-height:50.50px;font-weight:normal;font-style:normal;color:#ffffff;transform:scaleX(0.9960)">50,000,000</div>
<div class="a" id="L3_0" style="left:889.18px;top:2208.18px;font-size:50.00px;line-height:50.00px;font-weight:normal;font-style:normal;color:#ffffff;-webkit-text-stroke:0.50px #ffffff;transform:scaleX(0.9547)">เบี้ยประกันมาตรฐาน รายปี</div>
<div class="a" id="N4_0" style="left:1614.17px;top:2208.55px;font-size:50.50px;line-height:50.50px;font-weight:normal;font-style:normal;color:#ffffff;transform:scaleX(1.0056)">1,611,000</div>
<div class="a" id="L1_1" style="left:78.06px;top:2330.18px;font-size:50.00px;line-height:50.00px;font-weight:normal;font-style:normal;color:#ffffff;-webkit-text-stroke:0.50px #ffffff;transform:scaleX(0.9567)">เบี้ยประกันรายปี</div>
<div class="a" id="N2_1" style="left:603.89px;top:2330.55px;font-size:50.50px;line-height:50.50px;font-weight:normal;font-style:normal;color:#ffffff;transform:scaleX(1.0028)">1,611,000</div>
<div class="a" id="L3_1" style="left:889.94px;top:2330.18px;font-size:50.00px;line-height:50.00px;font-weight:normal;font-style:normal;color:#ffffff;-webkit-text-stroke:0.50px #ffffff;transform:scaleX(1.0206)">ส่วนลดเบี้ยประกัน***</div>
<div class="a" id="N4_1" style="left:1684.03px;top:2330.55px;font-size:50.50px;line-height:50.50px;font-weight:normal;font-style:normal;color:#ffffff;transform:scaleX(0.9867)">96,500</div>
<div class="a" id="L1_2" style="left:78.00px;top:2447.28px;font-size:50.00px;line-height:50.00px;font-weight:normal;font-style:normal;color:#ffffff;-webkit-text-stroke:0.50px #ffffff;transform:scaleX(0.9727)">เบี้ยประกันรวม 15 ปี</div>
<div class="a" id="N2_2" style="left:574.01px;top:2447.65px;font-size:50.50px;line-height:50.50px;font-weight:normal;font-style:normal;color:#ffffff;transform:scaleX(0.9968)">24,165,000</div>
<div class="a" id="L3_2" style="left:890.23px;top:2447.28px;font-size:50.00px;line-height:50.00px;font-weight:normal;font-style:normal;color:#ffffff;-webkit-text-stroke:0.50px #ffffff;transform:scaleX(0.9425)">อัตราเบี้ยประกันดีกว่ามาตรฐาน</div>
<div class="a" id="N4_2" style="left:1614.05px;top:2447.65px;font-size:50.50px;line-height:50.50px;font-weight:normal;font-style:normal;color:#ffffff;transform:scaleX(0.9863)">1,514,500</div>
</body></html>
